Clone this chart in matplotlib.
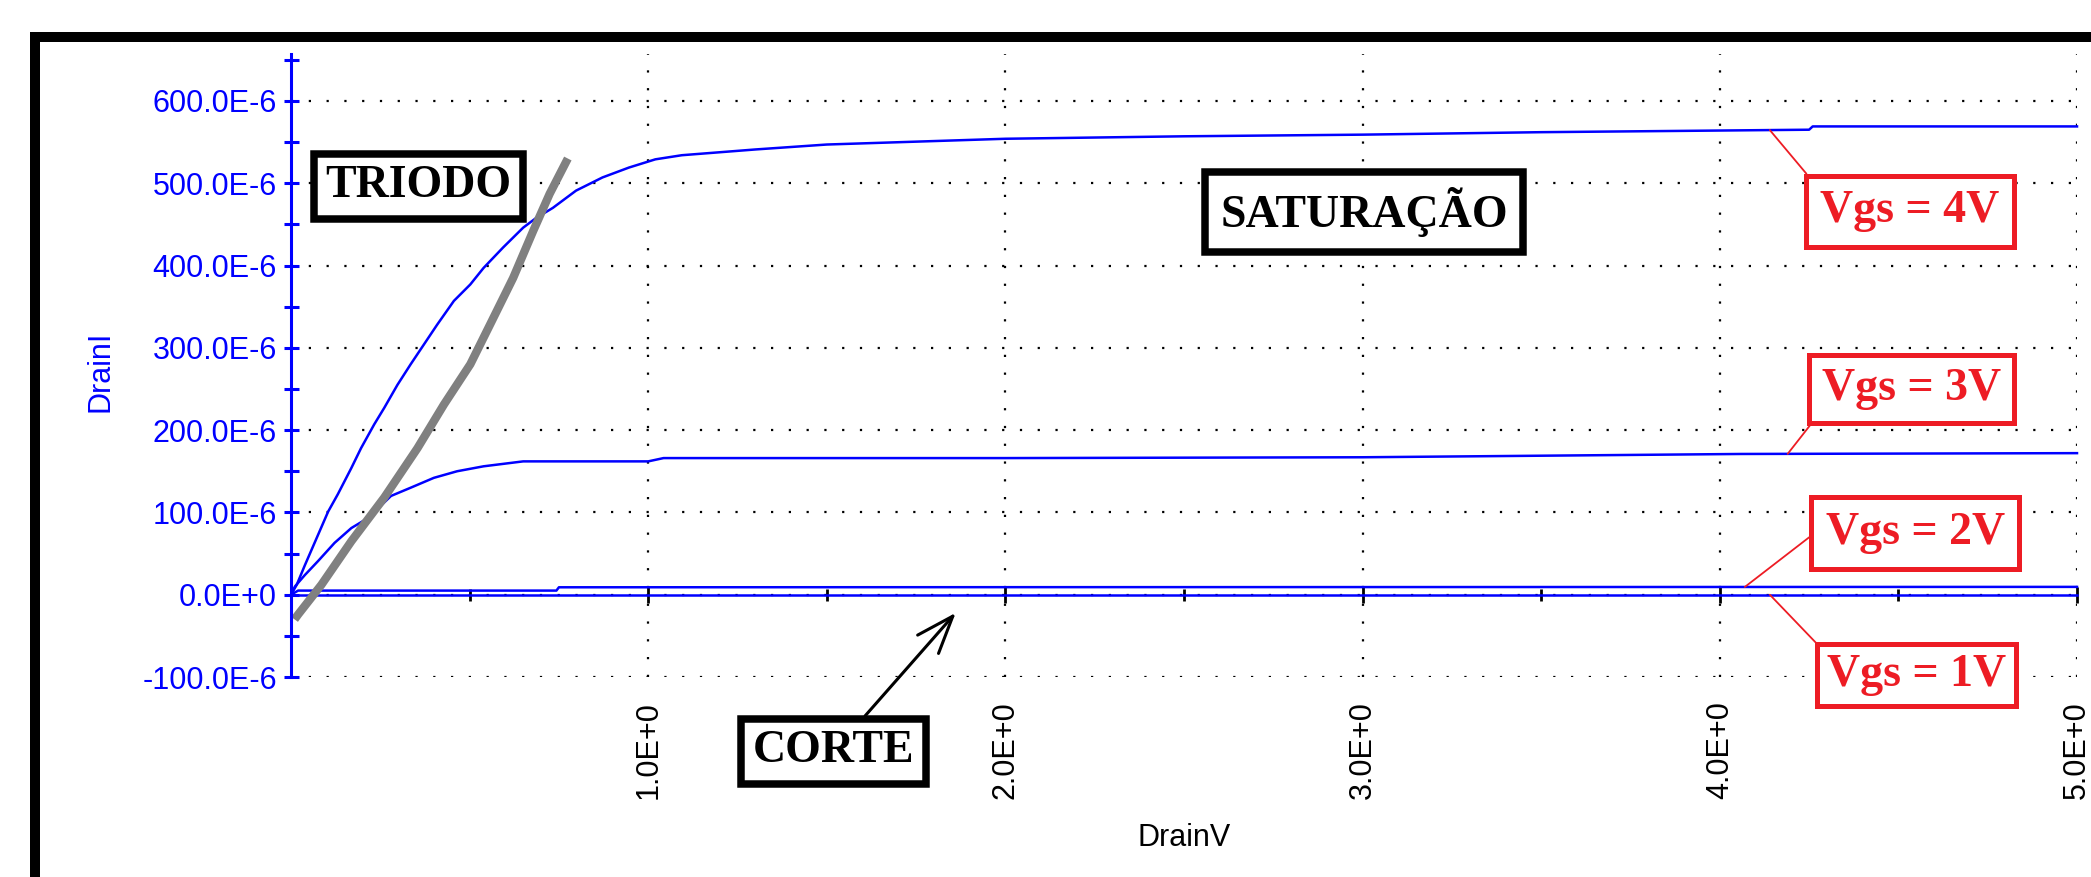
import numpy as np
import matplotlib
matplotlib.use('Agg')
import matplotlib.pyplot as plt
from matplotlib.patches import Rectangle

# ---------------------------------------------------------
# DATA  (DrainV in V, DrainI in uA)
# ---------------------------------------------------------
vds_vgs4 = [0, 0.016, 0.039, 0.076, 0.104, 0.131, 0.169, 0.196, 0.233, 0.261, 0.298, 0.335,
            0.372, 0.409, 0.456, 0.502, 0.539, 0.594, 0.65, 0.687, 0.733, 0.798, 0.872, 0.946,
            1.02, 1.094, 1.3, 1.5, 2.0, 2.5, 3.0, 3.5, 4.25, 4.26, 5.0]
id_vgs4 = [0, 12, 36, 73, 101, 122, 154, 178, 207, 227, 255, 280,
           304, 328, 357, 377, 397, 422, 446, 458, 470, 491, 507, 519,
           529, 534, 541, 547, 554, 557, 559, 562, 565, 569, 569]

vds_vgs3 = [0, 0.011, 0.039, 0.076, 0.122, 0.169, 0.215, 0.28, 0.335, 0.4, 0.465, 0.539,
            0.65, 1.0, 1.043, 2.0, 3.0, 4.06, 5.0]
id_vgs3 = [0, 10, 24, 41, 63, 81, 93, 120, 130, 142, 150, 156,
           162, 162, 166, 166, 167, 171, 172]

vds_vgs2 = [0, 0.02, 0.743, 0.75, 5.0]
id_vgs2 = [0, 5, 5, 9, 9.5]

vds_vgs1 = [0, 5.0]
id_vgs1 = [0, 0]

# limite triodo / saturacao (linha cinza)
bound_v = [0.01, 0.02, 0.085, 0.169, 0.261, 0.354, 0.428, 0.502, 0.557, 0.622, 0.678, 0.724, 0.775]
bound_i = [-30, -24, 12, 65, 118, 178, 231, 280, 328, 385, 442, 487, 530]

vgs_labels = ['Vgs = 4V', 'Vgs = 3V', 'Vgs = 2V', 'Vgs = 1V']

ytick_vals = [-100, 0, 100, 200, 300, 400, 500, 600]
ytick_labels = ['-100.0E-6', '0.0E+0', '100.0E-6', '200.0E-6', '300.0E-6',
                '400.0E-6', '500.0E-6', '600.0E-6']
xtick_vals = [1, 2, 3, 4, 5]
xtick_labels = ['1.0E+0', '2.0E+0', '3.0E+0', '4.0E+0', '5.0E+0']

# ---------------------------------------------------------
# STYLE
# ---------------------------------------------------------
blue = '#0000FF'
red = '#ED1C24'
sans = 'Liberation Sans'
serif = 'Liberation Serif'
ylim_lo, ylim_hi = -100, 657

fig = plt.figure(figsize=(20.91, 8.77), dpi=100)
ax = fig.add_axes([0.13917, 0.22805, 0.85414, 0.71038])

# outer black frame (cut by the picture edge)
fig.add_artist(Rectangle((0.01674, -0.2), 1.5, 0.95781 + 0.2, transform=fig.transFigure,
                         fill=False, edgecolor='black', linewidth=7.2))

# curves
curves = [(vds_vgs4, id_vgs4), (vds_vgs3, id_vgs3), (vds_vgs2, id_vgs2), (vds_vgs1, id_vgs1)]
for v, i in curves:
    ax.plot(v, i, color=blue, linewidth=1.8, zorder=2, clip_on=False)

ax.plot(bound_v, bound_i, color='#808080', linewidth=6, solid_capstyle='butt',
        solid_joinstyle='round', zorder=2.5, clip_on=False)

# axes
ax.set_xlim(0, 5)
ax.set_ylim(ylim_lo, ylim_hi)
for s in ['top', 'right', 'bottom']:
    ax.spines[s].set_visible(False)
ax.spines['left'].set_color(blue)
ax.spines['left'].set_linewidth(2.2)

ax.set_yticks(ytick_vals)
ax.set_yticklabels(ytick_labels, fontsize=22, family=sans, color=blue)
ax.set_yticks(np.arange(-50, 700, 100), minor=True)
ax.tick_params(axis='y', which='both', direction='inout', length=10.8, width=2.2, color=blue, pad=4.7)

ax.set_xticks(xtick_vals)
ax.set_xticklabels(xtick_labels, fontsize=22, family=sans, color='black', rotation=90)
ax.tick_params(axis='x', which='both', length=0, pad=17.3)

ax.grid(True, which='major', color='black', linestyle=(0, (1, 7)), linewidth=1.6)

# ticks on the zero line
y0_frac = (0 - ylim_lo) / (ylim_hi - ylim_lo)
sec = ax.secondary_xaxis(y0_frac)
sec.set_xticks(xtick_vals)
sec.set_xticks(np.arange(0.5, 5.0, 1.0), minor=True)
sec.tick_params(axis='x', which='both', direction='inout', color='black', width=2.0,
                labelbottom=False, labeltop=False)
sec.tick_params(axis='x', which='major', length=12)
sec.tick_params(axis='x', which='minor', length=8)
sec.spines['bottom'].set_visible(False)
sec.spines['top'].set_visible(False)

ax.set_xlabel('DrainV', fontsize=22, family=sans, color='black')
ax.xaxis.set_label_coords(0.5, -0.258)
ax.xaxis.label.set_va('center')
ax.set_ylabel('DrainI', fontsize=22, family=sans, color=blue)
ax.yaxis.set_label_coords(-0.1064, 0.49)
ax.yaxis.label.set_va('center')

# ---------------------------------------------------------
# ANNOTATIONS
# ---------------------------------------------------------
ax.text(0.356, 496, 'TRIODO', fontsize=33, family=serif, fontweight='bold', ha='center', va='center',
        bbox=dict(boxstyle='square,pad=0.25', facecolor='white', edgecolor='black', linewidth=5.4), zorder=5)
ax.text(3.004, 465, 'SATURAÇÃO', fontsize=33, family=serif, fontweight='bold', ha='center', va='center',
        bbox=dict(boxstyle='square,pad=0.33', facecolor='white', edgecolor='black', linewidth=5.4), zorder=5)
ax.annotate('CORTE', xy=(1.861, -22), xytext=(1.518, -190), textcoords='data',
            fontsize=33, family=serif, fontweight='bold', ha='center', va='center',
            bbox=dict(boxstyle='square,pad=0.25', facecolor='white', edgecolor='black', linewidth=5.4),
            arrowprops=dict(arrowstyle='->,head_length=1.35,head_width=0.5', mutation_scale=20,
                            color='black', linewidth=2.2, relpos=(0.62, 1), shrinkA=0, shrinkB=0),
            annotation_clip=False, zorder=5)

label_xy = [(4.532, 466), (4.537, 250), (4.547, 75), (4.551, -98)]
leader_v = [4.14, 4.19, 4.07, 4.14]
leader_rel = [(0, 1), (0, 0), (0, 0.7), (0, 1)]
label_pad = [0.32, 0.28, 0.32, 0.22]
for k in range(4):
    v, i = curves[k]
    ax.annotate(vgs_labels[k], xy=(leader_v[k], np.interp(leader_v[k], v, i)),
                xytext=label_xy[k], textcoords='data',
                fontsize=33, family=serif, fontweight='bold', color=red, ha='center', va='center',
                bbox=dict(boxstyle='square,pad=%.2f' % label_pad[k], facecolor='white',
                          edgecolor=red, linewidth=3.6),
                arrowprops=dict(arrowstyle='-', color=red, linewidth=1.3, relpos=leader_rel[k],
                                shrinkA=0, shrinkB=0),
                annotation_clip=False, zorder=5)

fig.savefig('out.png', dpi=100)
